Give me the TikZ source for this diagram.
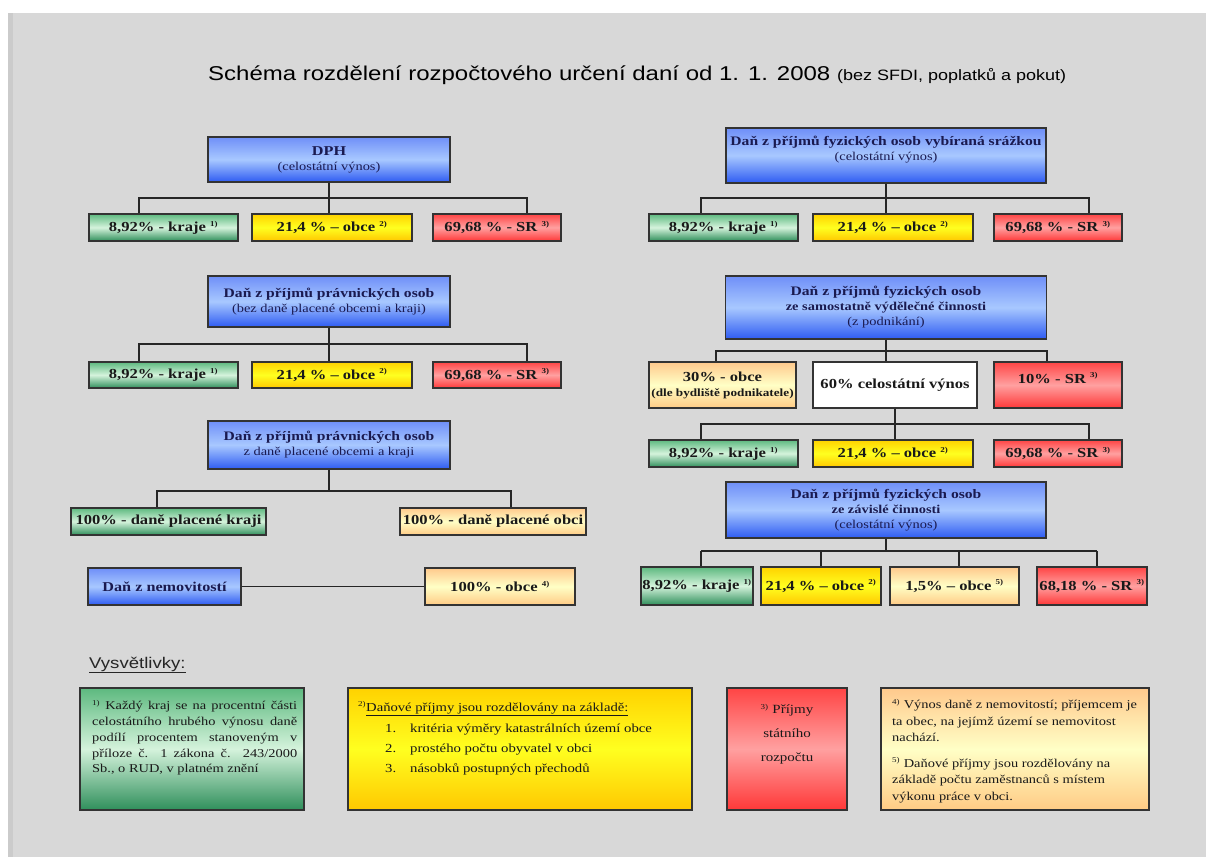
\documentclass[tikz,border=0pt]{standalone}
\usepackage{fontspec}
\setmainfont{Liberation Serif}[FakeStretch=1.2]
\newfontfamily\arialf{Liberation Sans}[FakeStretch=1.2]
\definecolor{bg}{HTML}{D8D8D8}
\definecolor{bgdark}{HTML}{CBCBCB}
\definecolor{blT}{HTML}{6F8FF8}
\definecolor{blM}{HTML}{A8C8FF}
\definecolor{blB}{HTML}{2E5BF2}
\definecolor{grT}{HTML}{5DB97F}
\definecolor{grM}{HTML}{D5F3DC}
\definecolor{grB}{HTML}{2F8F5B}
\definecolor{yeT}{HTML}{FFD200}
\definecolor{yeM}{HTML}{FFFF20}
\definecolor{yeB}{HTML}{FFC800}
\definecolor{rdT}{HTML}{FF4545}
\definecolor{rdM}{HTML}{FFA0A0}
\definecolor{rdB}{HTML}{FF3838}
\definecolor{orT}{HTML}{FFC98C}
\definecolor{orM}{HTML}{FFFFC6}
\definecolor{orB}{HTML}{FFCB85}
\definecolor{navy}{HTML}{1A1A50}
\newcommand\fnm[1]{\textsuperscript{\fontsize{7.5}{8}\selectfont #1}}
\begin{document}
\begin{tikzpicture}[x=1pt,y=-1pt,
  ln/.style={draw=black!85, line width=1.3pt},
  bx/.style={draw=black!80, line width=1.4pt, inner sep=1pt, align=center, text=black!90},
  lab/.style={bx, font=\bfseries\fontsize{13.8}{15}\selectfont},
  bl/.style={bx, top color=blT, bottom color=blB, middle color=blM, text=navy, font=\fontsize{12}{15}\selectfont},
  gr/.style={top color=grT, bottom color=grB, middle color=grM},
  ye/.style={top color=yeT, bottom color=yeB, middle color=yeM},
  rd/.style={top color=rdT, bottom color=rdB, middle color=rdM},
  orr/.style={top color=orT, bottom color=orB, middle color=orM},
  wh/.style={fill=white},
  txt/.style={inner sep=0pt, text=black!90},
]
\useasboundingbox (0,0) rectangle (1206,857);
\fill[white] (0,0) rectangle (1206,857);
\fill[bg] (8,13) rectangle (1206,857);
\fill[bgdark] (8,13) rectangle (13,857);

% title
\node[txt, anchor=base west, font=\arialf\fontsize{20}{24}\selectfont, text=black] (title) at (208,80)
  {Schéma rozdělení rozpočtového určení daní od 1. 1. 2008 {\fontsize{15}{18}\selectfont (bez SFDI, poplatků a pokut)}};

% ---------- left column ----------
\node[bl, minimum width=242pt, minimum height=45pt] (B1) at (329,159.5)
  {\textbf{\fontsize{13.5}{15}\selectfont DPH}\\(celostátní výnos)};
\node[lab,gr,minimum width=149pt,minimum height=27pt] (L1a) at (163.5,227.5) {8,92\% - kraje \fnm{1)}};
\node[lab,ye,minimum width=160pt,minimum height=27pt] (L1b) at (332,227.5) {21,4 \% – obce \fnm{2)}};
\node[lab,rd,minimum width=128pt,minimum height=27pt] (L1c) at (497,227.5) {69,68 \% - SR \fnm{3)}};
\coordinate (L1l) at (139,198); \coordinate (L1r) at (527,198);
\draw[ln] (B1.south) |- (L1l) -- (L1l |- L1a.north);
\draw[ln] (B1.south) |- (L1r) -- (L1r |- L1c.north);
\draw[ln] (B1.south) -- (B1.south |- L1b.north);

\node[bl, minimum width=242pt, minimum height=51pt] (B2) at (329,301.5)
  {\textbf{\fontsize{13}{15}\selectfont Daň z příjmů právnických osob}\\(bez daně placené obcemi a kraji)};
\node[lab,gr,minimum width=149pt,minimum height=26pt] (L2a) at (163.5,375) {8,92\% - kraje \fnm{1)}};
\node[lab,ye,minimum width=160pt,minimum height=26pt] (L2b) at (332,375) {21,4 \% – obce \fnm{2)}};
\node[lab,rd,minimum width=128pt,minimum height=26pt] (L2c) at (497,375) {69,68 \% - SR \fnm{3)}};
\coordinate (L2l) at (139,344); \coordinate (L2r) at (527,344);
\draw[ln] (B2.south) |- (L2l) -- (L2l |- L2a.north);
\draw[ln] (B2.south) |- (L2r) -- (L2r |- L2c.north);
\draw[ln] (B2.south) -- (B2.south |- L2b.north);

\node[bl, minimum width=242pt, minimum height=48pt] (B3) at (329,445)
  {\textbf{\fontsize{13}{15}\selectfont Daň z příjmů právnických osob}\\z daně placené obcemi a kraji};
\node[lab,gr,minimum width=195pt,minimum height=27pt] (L3a) at (168.5,521.5) {100\% - daně placené kraji};
\node[lab,orr,minimum width=186pt,minimum height=27pt] (L3b) at (493,521.5) {100\% - daně placené obci};
\coordinate (L3l) at (157,491); \coordinate (L3r) at (511,491);
\draw[ln] (B3.south) |- (L3l) -- (L3l |- L3a.north);
\draw[ln] (B3.south) |- (L3r) -- (L3r |- L3b.north);

\node[bl, font=\bfseries\fontsize{13.5}{15}\selectfont, minimum width=153pt, minimum height=37pt] (N) at (164.5,586.5) {Daň z nemovitostí};
\node[lab,orr,minimum width=150pt,minimum height=37pt] (N2) at (500,586.5) {100\% - obce \fnm{4)}};
\draw[ln] (N.east) -- (N2.west);

% ---------- right column ----------
\node[bl, minimum width=320pt, minimum height=55pt, text depth=15pt] (R1) at (886,155.5)
  {\textbf{\fontsize{13}{15}\selectfont Daň z příjmů fyzických osob vybíraná srážkou}\\(celostátní výnos)};
\node[lab,gr,minimum width=149pt,minimum height=27pt] (R1a) at (723.5,227.5) {8,92\% - kraje \fnm{1)}};
\node[lab,ye,minimum width=160pt,minimum height=27pt] (R1b) at (893,227.5) {21,4 \% – obce \fnm{2)}};
\node[lab,rd,minimum width=128pt,minimum height=27pt] (R1c) at (1058,227.5) {69,68 \% - SR \fnm{3)}};
\coordinate (R1l) at (701,198); \coordinate (R1r) at (1089,198);
\draw[ln] (R1.south) |- (R1l) -- (R1l |- R1a.north);
\draw[ln] (R1.south) |- (R1r) -- (R1r |- R1c.north);
\draw[ln] (R1.south) -- (R1.south |- R1b.north);

\node[bl, minimum width=321pt, minimum height=63pt] (R2) at (886,307.5)
  {\textbf{\fontsize{13}{15}\selectfont Daň z příjmů fyzických osob}\\\textbf{ze samostatně výdělečné činnosti}\\(z podnikání)};
\node[lab,orr,minimum width=147pt,minimum height=46pt] (R2a) at (722.5,385)
  {30\% - obce\\{\fontsize{11}{13}\selectfont (dle bydliště podnikatele)}};
\node[lab,wh,minimum width=164pt,minimum height=46pt] (R2b) at (895,385) {60\% celostátní výnos};
\node[lab,rd,minimum width=128pt,minimum height=46pt, text depth=14pt] (R2c) at (1058,385) {10\% - SR \fnm{3)}};
\coordinate (R2l) at (716,351); \coordinate (R2r) at (1047,351);
\draw[ln] (R2.south) |- (R2l) -- (R2l |- R2a.north);
\draw[ln] (R2.south) |- (R2r) -- (R2r |- R2c.north);
\draw[ln] (R2.south) -- (R2.south |- R2b.north);

\node[lab,gr,minimum width=149pt,minimum height=27pt] (R3a) at (723.5,453.5) {8,92\% - kraje \fnm{1)}};
\node[lab,ye,minimum width=160pt,minimum height=27pt] (R3b) at (893,453.5) {21,4 \% – obce \fnm{2)}};
\node[lab,rd,minimum width=128pt,minimum height=27pt] (R3c) at (1058,453.5) {69,68 \% - SR \fnm{3)}};
\coordinate (R3l) at (701,424); \coordinate (R3r) at (1089,424);
\draw[ln] (R2b.south) |- (R3l) -- (R3l |- R3a.north);
\draw[ln] (R2b.south) |- (R3r) -- (R3r |- R3c.north);
\draw[ln] (R2b.south) -- (R2b.south |- R3b.north);

\node[bl, minimum width=320pt, minimum height=56pt] (R3) at (886,510)
  {\textbf{\fontsize{13}{15}\selectfont Daň z příjmů fyzických osob}\\\textbf{ze závislé činnosti}\\(celostátní výnos)};
\node[lab,gr,minimum width=112pt,minimum height=38pt] (R4a) at (697,586) {8,92\% - kraje \fnm{1)}};
\node[lab,ye,minimum width=120pt,minimum height=38pt] (R4b) at (821,586) {21,4 \% – obce \fnm{2)}};
\node[lab,orr,minimum width=129pt,minimum height=38pt] (R4c) at (954.5,586) {1,5\% – obce \fnm{5)}};
\node[lab,rd,minimum width=110pt,minimum height=38pt] (R4d) at (1092,586) {68,18 \% - SR \fnm{3)}};
\coordinate (R4l) at (701,551); \coordinate (R4r) at (1097,551);
\coordinate (R4m1) at (821,551); \coordinate (R4m2) at (959,551);
\draw[ln] (R3.south) -- (R3.south |- R4l);
\draw[ln] (R4l) -- (R4r);
\draw[ln] (R4l) -- (R4l |- R4a.north);
\draw[ln] (R4m1) -- (R4m1 |- R4b.north);
\draw[ln] (R4m2) -- (R4m2 |- R4c.north);
\draw[ln] (R4r) -- (R4r |- R4d.north);

% ---------- legend ----------
\node[txt, anchor=base west, font=\arialf\fontsize{15.5}{18}\selectfont, text=black!85] (vys) at (89,668) {\underline{Vysvětlivky:}};

\node[bx, gr, minimum width=224pt, minimum height=122pt] (LG) at (192,749) {};
\node[txt, anchor=north west, text width=205pt, align=justify, font=\fontsize{12}{15.8}\selectfont] (LGt) at (92,700)
  {\fnm{1)} Každý kraj se na procentní části\linebreak celostátního hrubého výnosu daně\linebreak podílí procentem stanoveným v\linebreak příloze č. 1 zákona č. 243/2000\linebreak Sb., o RUD, v platném znění};

\node[bx, ye, minimum width=344pt, minimum height=122pt] (LY) at (520,749) {};
\node[txt, anchor=base west, font=\fontsize{12.2}{15}\selectfont] (LYh) at (358,711) {\fnm{2)}\underline{Daňové příjmy jsou rozdělovány na základě:}};
\node[txt, anchor=base west, font=\fontsize{12.3}{15}\selectfont] (LY1) at (385,732) {\makebox[25pt][l]{1.}kritéria výměry katastrálních území obce};
\node[txt, anchor=base west, font=\fontsize{12.3}{15}\selectfont] (LY2) at (385,752) {\makebox[25pt][l]{2.}prostého počtu obyvatel v obci};
\node[txt, anchor=base west, font=\fontsize{12.3}{15}\selectfont] (LY3) at (385,772) {\makebox[25pt][l]{3.}násobků postupných přechodů};

\node[bx, rd, minimum width=120pt, minimum height=122pt] (LR) at (787,749) {};
\node[txt, anchor=north, align=center, font=\fontsize{12.5}{24}\selectfont] (LRt) at (787,704) {\fnm{3)} Příjmy\\státního\\rozpočtu};

\node[bx, orr, minimum width=268pt, minimum height=122pt] (LO) at (1015,749) {};
\node[txt, anchor=north west, align=left, font=\fontsize{12}{16.5}\selectfont] (LOt) at (892,699)
  {\fnm{4)} Výnos daně z nemovitostí; příjemcem je\\ta obec, na jejímž území se nemovitost\\nachází.\\[9pt]\fnm{5)} Daňové příjmy jsou rozdělovány na\\základě počtu zaměstnanců s místem\\výkonu práce v obci.};
\end{tikzpicture}
\end{document}
